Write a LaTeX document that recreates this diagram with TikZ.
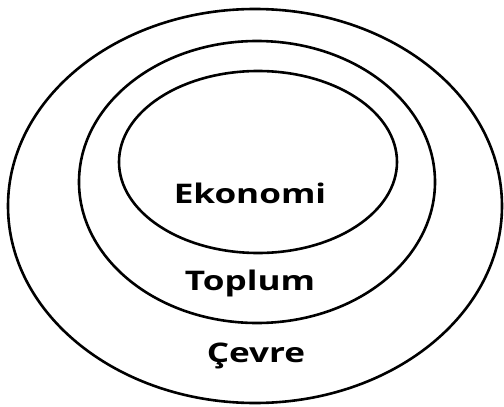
\documentclass[tikz,border=0pt]{standalone}
\usepackage{fontspec}
\setmainfont{Open Sans}
\usepackage{tikz}
\usetikzlibrary{positioning}

\begin{document}
\begin{tikzpicture}[x=1pt, y=-1pt,
  ring/.style={line width=2.6pt, black},
  layer/.style={font=\fontsize{27}{30}\selectfont\bfseries, xscale=1.3,
                transform shape, inner sep=0pt}
]
  \useasboundingbox (0,0) rectangle (504,407);

  % Nested rings, outermost first
  \draw[ring] (255,206) ellipse [x radius=247pt, y radius=197pt];
  \draw[ring] (257,182) ellipse [x radius=178pt, y radius=141pt];
  \draw[ring] (258,162) ellipse [x radius=139pt, y radius=91pt];

  % Labels
  \node[layer] (ekonomi) at (250,193) {Ekonomi};
  \node[layer] (toplum)  at (250,283) {Toplum};
  \node[layer] (cevre)   at (256,356) {Çevre};
\end{tikzpicture}
\end{document}
